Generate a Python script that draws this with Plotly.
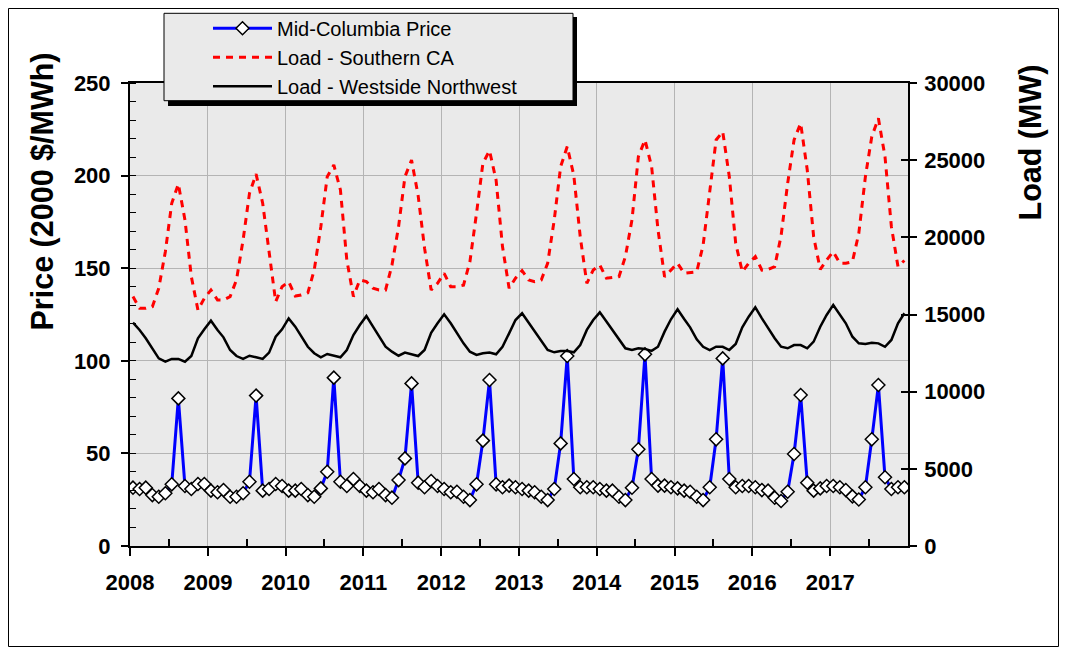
import pandas as pd
import plotly.graph_objects as go

# Monthly observations, Jan 2008 - Dec 2017 (plotted mid-month)
months = pd.date_range("2008-01-01", periods=120, freq="MS") + pd.Timedelta(days=14)

price_midc = [
    31.5, 30.8, 31.5, 27.5, 26.6, 28.5, 33.3, 79.7, 32.4, 30.8, 33.5, 33.5,
    29.9, 29.0, 30.2, 26.6, 26.6, 28.5, 34.7, 81.2, 29.9, 30.8, 33.5, 32.4,
    29.9, 29.9, 30.8, 27.5, 26.6, 31.1, 40.1, 90.9, 34.7, 32.4, 36.2, 32.4,
    29.9, 29.0, 30.8, 27.5, 26.1, 35.6, 47.3, 87.8, 34.2, 31.7, 35.1, 32.4,
    30.8, 29.0, 29.3, 26.6, 24.8, 33.3, 56.9, 89.6, 33.3, 31.7, 32.6, 31.7,
    30.8, 29.9, 29.0, 26.6, 24.8, 30.8, 55.4, 102.6, 36.2, 31.7, 31.7, 31.7,
    30.8, 29.9, 29.9, 26.6, 24.8, 31.5, 52.2, 103.5, 36.2, 32.6, 32.6, 31.7,
    31.1, 29.9, 29.3, 26.6, 24.8, 31.7, 57.6, 101.3, 36.2, 31.7, 32.4, 32.4,
    31.7, 30.2, 29.9, 26.1, 24.3, 29.3, 49.7, 81.5, 34.2, 29.9, 31.1, 32.4,
    32.4, 31.7, 30.2, 26.8, 25.1, 31.7, 57.6, 86.9, 37.1, 30.8, 31.7, 31.7,
]

load_socal = [
    16160, 15400, 15400, 15510, 16700, 19070, 22210, 23460, 21130, 17450, 15290, 16050,
    16590, 15940, 15940, 16160, 17240, 19830, 22850, 24100, 22210, 18970, 15830, 16800,
    17130, 16200, 16260, 16400, 17880, 20690, 23930, 24690, 23070, 18530, 16160, 17240,
    17130, 16700, 16590, 16590, 18200, 20690, 23930, 25010, 22700, 19300, 16590, 17020,
    17670, 16800, 16800, 16900, 18420, 21560, 24800, 25620, 23700, 19400, 16700, 17350,
    17840, 17240, 17130, 17240, 18320, 21130, 24580, 25880, 24000, 20040, 17020, 17880,
    18210, 17350, 17390, 17450, 18750, 21130, 25230, 26310, 24600, 20500, 17450, 17880,
    18320, 17670, 17720, 17770, 19500, 23070, 26310, 26850, 23930, 19610, 17770, 18320,
    18750, 17880, 17920, 18100, 20100, 23500, 26310, 27390, 24360, 20040, 17920, 18530,
    19070, 18320, 18320, 18420, 20260, 23930, 26530, 27710, 25230, 20690, 18100, 18500,
]

load_westside_nw = [
    14470, 14000, 13460, 12810, 12160, 11940, 12120, 12120, 11940, 12310, 13460, 14040,
    14600, 14000, 13520, 12700, 12310, 12120, 12330, 12230, 12120, 12530, 13560, 14040,
    14750, 14210, 13560, 12910, 12490, 12230, 12440, 12330, 12230, 12700, 13670, 14320,
    14900, 14210, 13560, 12910, 12590, 12330, 12530, 12440, 12310, 12700, 13820, 14430,
    15010, 14430, 13780, 13130, 12590, 12380, 12490, 12530, 12420, 12910, 13780, 14640,
    15080, 14470, 13890, 13240, 12700, 12550, 12640, 12640, 12550, 13020, 14000, 14640,
    15140, 14540, 14000, 13350, 12810, 12700, 12810, 12770, 12640, 12910, 13890, 14690,
    15340, 14710, 14170, 13390, 12910, 12700, 12910, 12910, 12700, 13090, 14170, 14860,
    15470, 14750, 14100, 13460, 12910, 12810, 13020, 13020, 12810, 13240, 14210, 14970,
    15620, 14970, 14430, 13560, 13130, 13090, 13170, 13130, 12910, 13350, 14430, 15080,
]

year_ticks = [f"{y}-01-01" for y in range(2008, 2018)]
year_labels = [str(y) for y in range(2008, 2018)]

FONT = "Arial, Liberation Sans, sans-serif"
BG = "#EAEAEA"

fig = go.Figure()
fig.add_trace(go.Scatter(
    x=months, y=price_midc, name="Mid-Columbia Price", mode="lines+markers",
    line=dict(color="#0000FF", width=3),
    marker=dict(symbol="diamond", size=10, color="white", line=dict(color="black", width=1.5)),
    yaxis="y",
))
fig.add_trace(go.Scatter(
    x=months, y=load_socal, name="Load - Southern CA", mode="lines",
    line=dict(color="#FF0000", width=3, dash="7px,6px"),
    yaxis="y2",
))
fig.add_trace(go.Scatter(
    x=months, y=load_westside_nw, name="Load - Westside Northwest", mode="lines",
    line=dict(color="black", width=2.5),
    yaxis="y2",
))
# helper trace so the inner right-side tick axis is drawn
fig.add_trace(go.Scatter(x=[months[0]], y=[None], yaxis="y3", showlegend=False,
                         hoverinfo="skip", mode="lines"))

# figure is placed 8px inside the page (body margin), so work in figure pixels
W, H = 1051, 639
L, T = 122, 75
R = W - 900
B = H - 538
pw, ph = W - L - R, H - T - B


def px_x(p):
    return (p - L) / pw


def px_y(p):
    return (H - B - p) / ph


fig.update_layout(
    width=W, height=H,
    margin=dict(l=L, r=R, t=T, b=B, autoexpand=False),
    paper_bgcolor="white", plot_bgcolor=BG,
    font=dict(family=FONT, color="black"),
    showlegend=True,
    legend=dict(
        x=px_x(200), y=px_y(0.8), xanchor="left", yanchor="top",
        bgcolor="rgba(0,0,0,0)", borderwidth=0,
        font=dict(size=20, family=FONT), itemwidth=59,
        tracegroupgap=0,
    ),
    xaxis=dict(
        type="date", range=["2008-01-01", "2018-01-01"],
        tickmode="array", tickvals=year_ticks, ticktext=year_labels,
        ticks="outside", ticklen=8, tickwidth=1.5, tickcolor="black",
        ticklabelstandoff=8,
        tickfont=dict(size=22, family=FONT, weight="bold"),
        showline=True, linecolor="black", linewidth=2, mirror=True,
        showgrid=True, gridcolor="#B4B4B4", gridwidth=1,
        zeroline=False,
        minor=dict(ticks="inside", ticklen=7, tickcolor="black", tickwidth=1.5,
                   tick0="2008-07-01", dtick="M12", showgrid=False),
    ),
    yaxis=dict(
        range=[0, 250], tickmode="linear", tick0=0, dtick=50,
        ticks="outside", ticklen=7, tickwidth=1.5, tickcolor="black",
        ticklabelstandoff=6,
        tickfont=dict(size=22, family=FONT, weight="bold"),
        showline=True, linecolor="black", linewidth=2,
        showgrid=True, gridcolor="#B4B4B4", gridwidth=1,
        zeroline=False,
        minor=dict(ticks="inside", ticklen=6, tickcolor="black", tickwidth=1,
                   dtick=10, showgrid=False),
    ),
    yaxis2=dict(
        range=[0, 30000], tickmode="linear", tick0=0, dtick=5000, tickformat="d",
        overlaying="y", side="right",
        ticks="outside", ticklen=7, tickwidth=1.5, tickcolor="black",
        ticklabelstandoff=3,
        tickfont=dict(size=22, family=FONT, weight="bold"),
        showline=True, linecolor="black", linewidth=1.5,
        showgrid=False, zeroline=False,
    ),
    yaxis3=dict(
        range=[0, 30000], tickmode="linear", tick0=0, dtick=5000,
        overlaying="y", side="right",
        ticks="inside", ticklen=7, tickwidth=1.5, tickcolor="black",
        showticklabels=False, showline=False, showgrid=False, zeroline=False,
    ),
)

fig.add_annotation(
    text="Price (2000 $/MWh)", textangle=-90, showarrow=False,
    xref="paper", yref="paper", x=px_x(34), y=px_y(183.5),
    xanchor="center", yanchor="middle",
    font=dict(size=30.5, family=FONT, weight="bold"),
)
fig.add_annotation(
    text="Load (MW)", textangle=-90, showarrow=False,
    xref="paper", yref="paper", x=px_x(1022), y=px_y(134.5),
    xanchor="center", yanchor="middle",
    font=dict(size=30.5, family=FONT, weight="bold"),
)

# outer frame of the picture
fig.add_shape(type="rect", xref="paper", yref="paper",
              x0=px_x(0.5), x1=px_x(W - 0.5), y0=px_y(H - 0.5), y1=px_y(0.5),
              line=dict(color="black", width=1), fillcolor="rgba(0,0,0,0)", layer="below")
# legend drop shadow and box
fig.add_shape(type="rect", xref="paper", yref="paper",
              x0=px_x(160), x1=px_x(569), y0=px_y(98), y1=px_y(9),
              line=dict(width=0), fillcolor="black", layer="above")
fig.add_shape(type="rect", xref="paper", yref="paper",
              x0=px_x(156), x1=px_x(565), y0=px_y(92.7), y1=px_y(5.3),
              line=dict(color="black", width=1), fillcolor=BG, layer="above")

fig.write_html("out.html")
